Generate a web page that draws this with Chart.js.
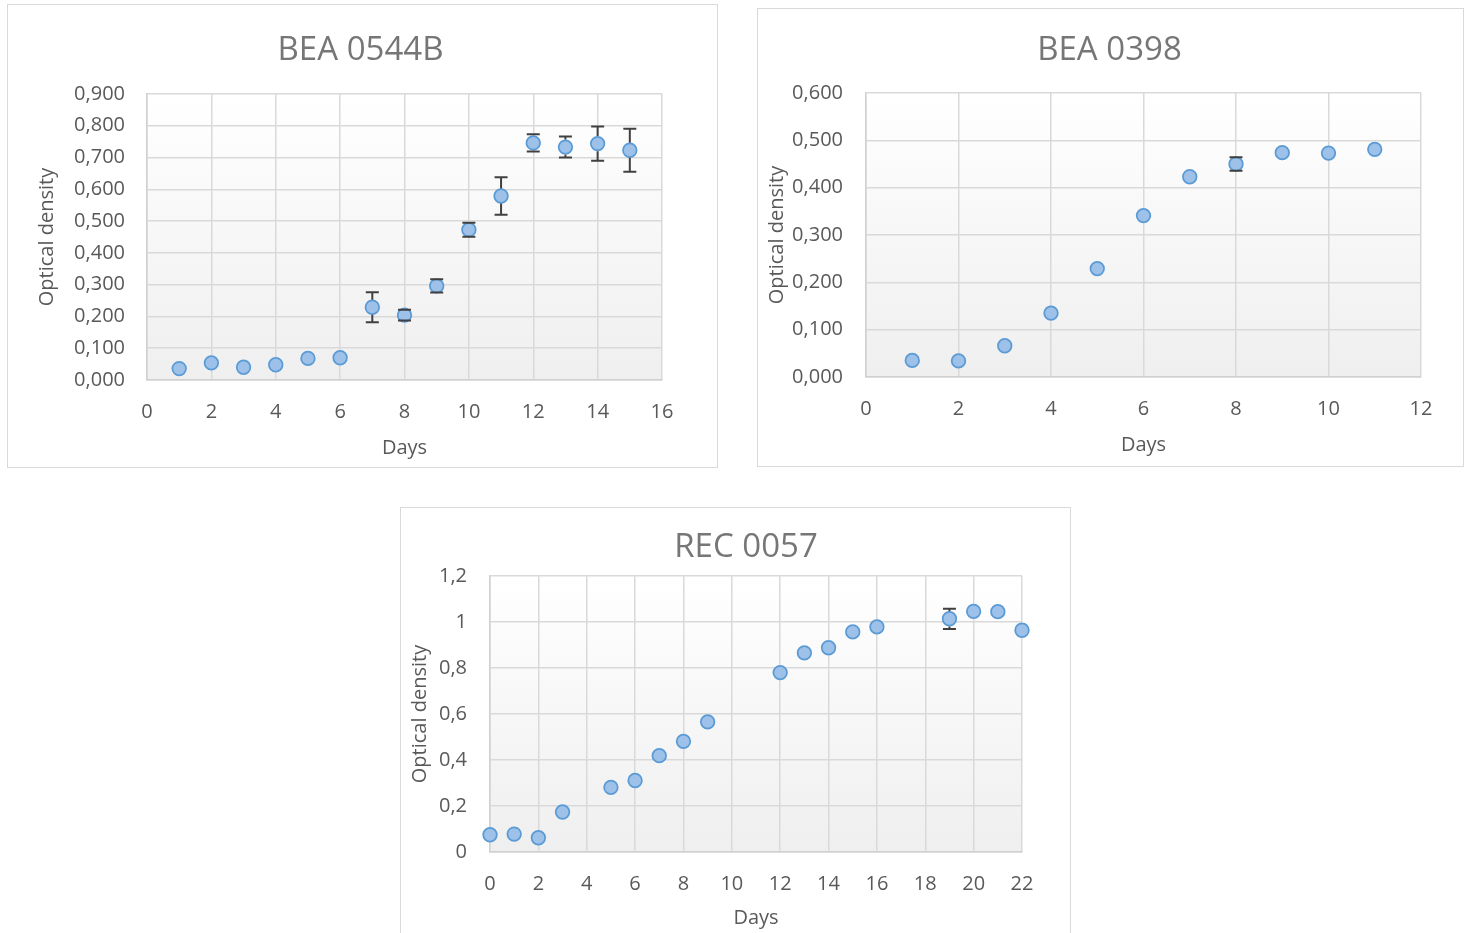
<!DOCTYPE html>
<html>
<head>
<meta charset="utf-8">
<title>Growth curves</title>
<script src="https://cdn.jsdelivr.net/npm/chart.js@4.4.1/dist/chart.umd.min.js"></script>
<style>
  html, body { margin: 0; padding: 0; background: #ffffff; width: 1468px; height: 933px; overflow: hidden; }
  .frame { position: absolute; box-sizing: border-box; border: 1.5px solid #d9d9d9; background: #ffffff; }
  canvas { position: absolute; }
</style>
</head>
<body>
<div class="frame" style="left:7px;top:4px;width:711px;height:464px"></div>
<div class="frame" style="left:757px;top:8px;width:707px;height:459px"></div>
<div class="frame" style="left:400px;top:507px;width:671px;height:460px"></div>
<canvas id="c1" width="707" height="463" style="left:7px;top:4px"></canvas>
<canvas id="c2" width="705" height="458" style="left:757px;top:8px"></canvas>
<canvas id="c3" width="680" height="433" style="left:406px;top:507px"></canvas>
<script>
// BEA 0544B
const days1 = [1, 2, 3, 4, 5, 6, 7, 8, 9, 10, 11, 12, 13, 14, 15];
const od1   = [0.036, 0.054, 0.040, 0.048, 0.068, 0.070, 0.229, 0.204, 0.296, 0.473, 0.579, 0.746, 0.733, 0.744, 0.723];
const err1  = [0, 0, 0, 0, 0, 0, 0.047, 0.017, 0.021, 0.022, 0.059, 0.027, 0.033, 0.054, 0.068];
const xTicks1 = ['0', '2', '4', '6', '8', '10', '12', '14', '16'];
const yTicks1 = ['0,000', '0,100', '0,200', '0,300', '0,400', '0,500', '0,600', '0,700', '0,800', '0,900'];

// BEA 0398
const days2 = [1, 2, 3, 4, 5, 6, 7, 8, 9, 10, 11];
const od2   = [0.035, 0.034, 0.066, 0.135, 0.229, 0.341, 0.423, 0.450, 0.474, 0.473, 0.481];
const err2  = [0, 0, 0, 0, 0, 0, 0, 0.014, 0, 0, 0];
const xTicks2 = ['0', '2', '4', '6', '8', '10', '12'];
const yTicks2 = ['0,000', '0,100', '0,200', '0,300', '0,400', '0,500', '0,600'];

// REC 0057
const days3 = [0, 1, 2, 3, 5, 6, 7, 8, 9, 12, 13, 14, 15, 16, 19, 20, 21, 22];
const od3   = [0.075, 0.078, 0.062, 0.174, 0.281, 0.311, 0.419, 0.481, 0.566, 0.780, 0.866, 0.888, 0.957, 0.979, 1.014, 1.046, 1.045, 0.964];
const err3  = [0, 0, 0, 0, 0, 0, 0, 0, 0, 0, 0, 0, 0, 0, 0.044, 0, 0, 0];
const xTicks3 = ['0', '2', '4', '6', '8', '10', '12', '14', '16', '18', '20', '22'];
const yTicks3 = ['0', '0,2', '0,4', '0,6', '0,8', '1', '1,2'];

const FONT = "'Open Sans', 'DejaVu Sans', sans-serif";
const MARKER_R = 6.8;

// soft white-to-grey fill behind the plotting area
const plotBg = {
  id: 'plotBg',
  beforeDraw(chart) {
    const { ctx, chartArea: a } = chart;
    const g = ctx.createLinearGradient(0, a.top, 0, a.bottom);
    g.addColorStop(0, '#ffffff');
    g.addColorStop(1, '#efefef');
    ctx.save();
    ctx.fillStyle = g;
    ctx.fillRect(a.left, a.top, a.width, a.height);
    ctx.restore();
  }
};

// centre the chart title over the whole frame rather than the plot column
const titleCentre = {
  id: 'titleCentre',
  afterLayout(chart, args, opts) {
    const t = chart.titleBlock;
    if (!t || opts.x == null) return;
    const w = t.right - t.left;
    t.left = opts.x - w / 2;
    t.right = opts.x + w / 2;
  }
};

// vertical error bars with caps, drawn from each point's +/- error
const errorBars = {
  id: 'errorBars',
  afterDatasetsDraw(chart, args, opts) {
    const { ctx } = chart;
    const xs = chart.scales.x, ys = chart.scales.y;
    const pts = chart.data.datasets[0].data;
    const errs = opts.errors || [];
    const r = MARKER_R + 0.8;
    const cap = 6.5;
    ctx.save();
    ctx.strokeStyle = '#404040';
    ctx.lineWidth = 2;
    pts.forEach((p, i) => {
      const e = errs[i];
      if (!e) return;
      const x = xs.getPixelForValue(p.x);
      const y0 = ys.getPixelForValue(p.y);
      const yt = ys.getPixelForValue(p.y + e);
      const yb = ys.getPixelForValue(p.y - e);
      ctx.beginPath();
      if (y0 - yt > r) { ctx.moveTo(x, yt); ctx.lineTo(x, y0 - r); }
      if (yb - y0 > r) { ctx.moveTo(x, y0 + r); ctx.lineTo(x, yb); }
      ctx.moveTo(x - cap, yt); ctx.lineTo(x + cap, yt);
      ctx.moveTo(x - cap, yb); ctx.lineTo(x + cap, yb);
      ctx.stroke();
    });
    ctx.restore();
  }
};

function makeChart(c) {
  const data = c.days.map((d, i) => ({ x: d, y: c.od[i] }));
  return new Chart(document.getElementById(c.canvas), {
    type: 'scatter',
    data: {
      datasets: [{
        data: data,
        clip: false,
        pointRadius: MARKER_R,
        pointHoverRadius: MARKER_R,
        pointBackgroundColor: '#9dc1e8',
        pointBorderColor: '#5b9bd5',
        pointBorderWidth: 1.75,
        showLine: false
      }]
    },
    options: {
      responsive: false,
      animation: false,
      devicePixelRatio: 1,
      events: [],
      layout: { padding: { left: 0, top: 0, right: c.padRight, bottom: 0 } },
      plugins: {
        legend: { display: false },
        tooltip: { enabled: false },
        title: {
          display: true,
          text: c.title,
          color: '#767676',
          font: { family: FONT, size: 33, weight: 'normal', lineHeight: 1.2 },
          padding: c.titlePad
        },
        titleCentre: { x: c.titleX },
        errorBars: { errors: c.err }
      },
      scales: {
        x: {
          type: 'linear',
          min: 0,
          max: c.xMax,
          afterFit(s) { s.height = c.xHeight; },
          ticks: {
            stepSize: 2,
            autoSkip: false,
            maxRotation: 0,
            padding: c.xTickPad,
            color: '#595959',
            font: { family: FONT, size: 20 },
            callback: (v, i) => c.xLabels[i]
          },
          grid: { color: '#d9d9d9', lineWidth: 1.5, drawTicks: false },
          border: { color: '#d0d0d0', width: 1.5 },
          title: {
            display: true,
            text: 'Days',
            color: '#595959',
            font: { family: FONT, size: 20, lineHeight: 1.2 },
            padding: { top: 0, bottom: c.xTitlePad }
          }
        },
        y: {
          type: 'linear',
          min: 0,
          max: c.yMax,
          afterFit(s) { s.width = c.yWidth; },
          ticks: {
            stepSize: c.yStep,
            autoSkip: false,
            padding: c.yTickPad,
            color: '#595959',
            font: { family: FONT, size: 20 },
            callback: (v, i) => c.yLabels[i]
          },
          grid: { color: '#d9d9d9', lineWidth: 1.5, drawTicks: false },
          border: { color: '#d0d0d0', width: 1.5 },
          title: {
            display: true,
            text: 'Optical density',
            color: '#595959',
            font: { family: FONT, size: 20, lineHeight: 1.2 },
            padding: { top: c.yTitlePad, bottom: 0 }
          }
        }
      }
    },
    plugins: [plotBg, titleCentre, errorBars]
  });
}

makeChart({
  canvas: 'c1', title: 'BEA 0544B', titleX: 353.5,
  days: days1, od: od1, err: err1, xLabels: xTicks1, yLabels: yTicks1,
  xMax: 16, yMax: 0.9, yStep: 0.1,
  titlePad: { top: 27, bottom: 23.4 }, padRight: 52,
  yWidth: 140, yTickPad: 22, yTitlePad: 28,
  xHeight: 87, xTickPad: 20, xTitlePad: 7
});

makeChart({
  canvas: 'c2', title: 'BEA 0398', titleX: 352.5,
  days: days2, od: od2, err: err2, xLabels: xTicks2, yLabels: yTicks2,
  xMax: 12, yMax: 0.6, yStep: 0.1,
  titlePad: { top: 22.5, bottom: 22.9 }, padRight: 41,
  yWidth: 109, yTickPad: 23, yTitlePad: 8,
  xHeight: 89, xTickPad: 20, xTitlePad: 9
});

makeChart({
  canvas: 'c3', title: 'REC 0057', titleX: 340,
  days: days3, od: od3, err: err3, xLabels: xTicks3, yLabels: yTicks3,
  xMax: 22, yMax: 1.2, yStep: 0.2,
  titlePad: { top: 21.2, bottom: 8.2 }, padRight: 64,
  yWidth: 84, yTickPad: 23, yTitlePad: 2,
  xHeight: 88, xTickPad: 20, xTitlePad: 10
});
</script>
</body>
</html>
